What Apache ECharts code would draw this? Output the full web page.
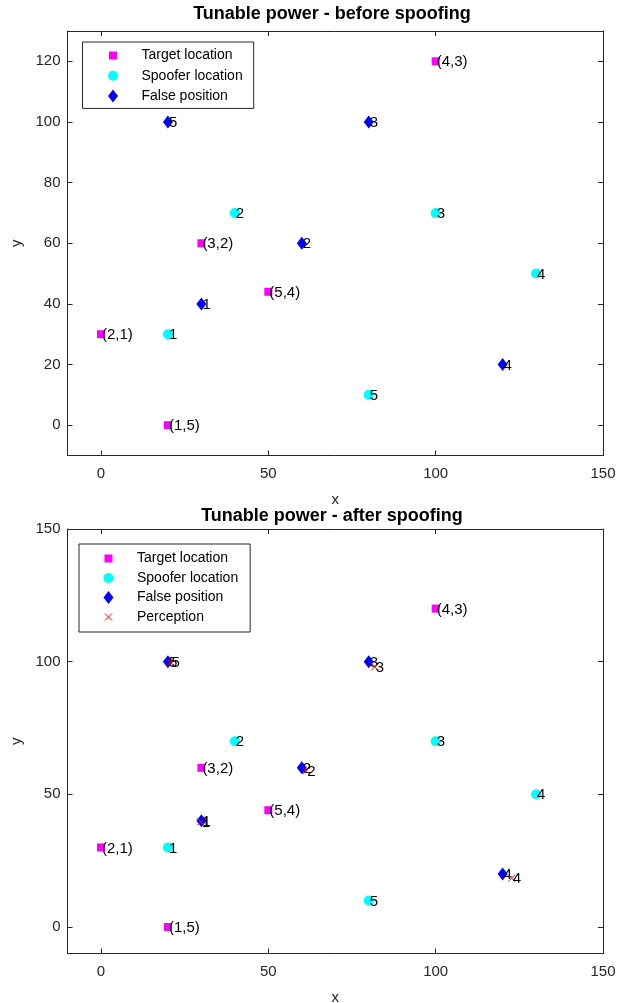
<!DOCTYPE html>
<html><head><meta charset="utf-8">
<script src="https://cdn.jsdelivr.net/npm/echarts@6/dist/echarts.min.js"></script>
<style>html,body{margin:0;padding:0;background:#fff}#c{width:629px;height:1003px}</style>
</head><body><div id="c"></div>
<script>
// ---- data ----
const targetX = [0, 20, 30, 50, 100];
const targetY = [30, 0, 60, 44, 120];
const targetLabels = ['(2,1)', '(1,5)', '(3,2)', '(5,4)', '(4,3)'];
const spooferX = [20, 40, 100, 130, 80];
const spooferY = [30, 70, 70, 50, 10];
const spooferLabels = ['1', '2', '3', '4', '5'];
const falseX = [30, 60, 80, 120, 20];
const falseY = [40, 60, 100, 20, 100];
const falseLabels = ['1', '2', '3', '4', '5'];
const perceptionX = [29.8, 61.3, 81.8, 122.7, 20.8];
const perceptionY = [39.6, 58.9, 98, 18.4, 99.8];
const perceptionLabels = ['1', '2', '3', '4', '5'];
const xTicks = [0, 50, 100, 150];
const yTicksTop = [0, 20, 40, 60, 80, 100, 120];
const yTicksBottom = [0, 50, 100, 150];
const titles = ['Tunable power - before spoofing', 'Tunable power - after spoofing'];
const seriesNames = ['Target location', 'Spoofer location', 'False position', 'Perception'];

// ---- chart ----
const FONT = 'Liberation Sans, Arial, Helvetica, sans-serif';
const AX = '#262626';
const chart = echarts.init(document.getElementById('c'), null, {renderer: 'canvas'});

function pts(xs, ys, labels) {
  return xs.map((x, i) => ({value: [x, ys[i]], name: labels[i]}));
}
const labelCfg = {
  show: true, formatter: '{b}', position: ['50%', '50%'], align: 'left', verticalAlign: 'middle',
  offset: [1, 1], color: '#000', fontSize: 15, fontFamily: FONT
};

function makeAxes(g, ymax, yTicks) {
  const base = {
    type: 'value', gridIndex: g, splitLine: {show: false},
    axisLine: {show: true, onZero: false, lineStyle: {color: AX, width: 1}},
  };
  const xb = Object.assign({}, base, {
    position: 'bottom', min: -10, max: 150,
    axisTick: {show: true, inside: true, length: 5, customValues: xTicks, lineStyle: {color: AX}},
    axisLabel: {show: true, customValues: xTicks, color: AX, fontSize: 15, fontFamily: FONT, margin: 11},
    name: 'x', nameLocation: 'middle', nameGap: 37,
    nameTextStyle: {color: AX, fontSize: 15, fontFamily: FONT}
  });
  const xt = Object.assign({}, base, {
    position: 'top', min: -10, max: 150,
    axisTick: {show: true, inside: true, length: 5, customValues: xTicks, lineStyle: {color: AX}},
    axisLabel: {show: false}
  });
  const yl = Object.assign({}, base, {
    position: 'left', min: -10, max: ymax,
    axisTick: {show: true, inside: true, length: 5, customValues: yTicks, lineStyle: {color: AX}},
    axisLabel: {show: true, customValues: yTicks, color: AX, fontSize: 15, fontFamily: FONT, margin: 7},
    name: 'y', nameLocation: 'middle', nameGap: 39, nameRotate: 90,
    nameTextStyle: {color: AX, fontSize: 15, fontFamily: FONT}
  });
  const yr = Object.assign({}, base, {
    position: 'right', min: -10, max: ymax,
    axisTick: {show: true, inside: true, length: 5, customValues: yTicks, lineStyle: {color: AX}},
    axisLabel: {show: false}
  });
  return {x: [xb, xt], y: [yl, yr]};
}

const a0 = makeAxes(0, 130, yTicksTop);
const a1 = makeAxes(1, 150, yTicksBottom);

function scatterSet(g, withPerception) {
  const xi = g * 2, yi = g * 2;
  const s = [
    {name: seriesNames[0], type: 'scatter', xAxisIndex: xi, yAxisIndex: yi, symbol: 'rect', symbolSize: 8,
     itemStyle: {color: '#ff00ff', opacity: 1}, label: labelCfg, data: pts(targetX, targetY, targetLabels), z: 2},
    {name: seriesNames[1], type: 'scatter', xAxisIndex: xi, yAxisIndex: yi, symbol: 'circle', symbolSize: 10,
     itemStyle: {color: '#00ffff', opacity: 1}, label: labelCfg, data: pts(spooferX, spooferY, spooferLabels), z: 2},
    {name: seriesNames[2], type: 'scatter', xAxisIndex: xi, yAxisIndex: yi, symbol: 'diamond', symbolSize: [10, 13],
     itemStyle: {color: '#0000ff', opacity: 1}, label: labelCfg, data: pts(falseX, falseY, falseLabels), z: 2}
  ];
  if (withPerception) {
    s.push({name: seriesNames[3], type: 'scatter', xAxisIndex: xi, yAxisIndex: yi,
      symbol: 'path://M0,0L10,10M10,0L0,10', symbolSize: 7,
      itemStyle: {color: 'rgba(0,0,0,0)', borderColor: '#ff0000', borderWidth: 1, opacity: 1},
      label: labelCfg, data: pts(perceptionX, perceptionY, perceptionLabels), z: 3});
  }
  return s;
}

const legendIcons = [
  'path://M-2.5,-2.5M10.5,10.5M0,0L8,0L8,8L0,8Z',
  'path://M-1.5,-1.5M11.5,11.5M0,5A5,5 0 1 1 10,5A5,5 0 1 1 0,5Z',
  'path://M5,0L10,6.5L5,13L0,6.5Z',
  'path://M-3,-3M10,10M0,0L7,7M7,0L0,7'
];
function legendData(n) {
  return seriesNames.slice(0, n).map((nm, i) => ({name: nm, icon: legendIcons[i]}));
}

const option = {
  animation: false,
  backgroundColor: '#fff',
  title: [
    {text: titles[0], left: 327, top: 0, textAlign: 'center',
     textStyle: {fontSize: 18, fontWeight: 'bold', color: '#000', fontFamily: FONT}},
    {text: titles[1], left: 327, top: 502, textAlign: 'center',
     textStyle: {fontSize: 18, fontWeight: 'bold', color: '#000', fontFamily: FONT}}
  ],
  grid: [
    {left: 67.5, right: 26, top: 31, height: 424.5, outerBoundsMode: 'none', containLabel: false},
    {left: 67.5, right: 26, top: 529, height: 424.5, outerBoundsMode: 'none', containLabel: false}
  ],
  xAxis: [...a0.x, ...a1.x],
  yAxis: [...a0.y, ...a1.y],
  legend: [
    {data: legendData(3), orient: 'vertical', left: 82.5, top: 42, selectedMode: false,
     itemWidth: 47, itemHeight: 13, itemGap: 6.2, padding: [6.5, 11, 5.5, 24],
     borderColor: AX, borderWidth: 1, backgroundColor: '#fff',
     itemStyle: {borderWidth: 1},
     textStyle: {fontSize: 14, color: '#000', fontFamily: FONT, lineHeight: 13}},
    {data: legendData(4), orient: 'vertical', left: 79, top: 544, selectedMode: false,
     itemWidth: 47, itemHeight: 13, itemGap: 5.5, padding: [7.5, 12, 8, 22.5],
     borderColor: AX, borderWidth: 1, backgroundColor: '#fff',
     itemStyle: {borderWidth: 1},
     textStyle: {fontSize: 14, color: '#000', fontFamily: FONT, lineHeight: 13}}
  ],
  series: [...scatterSet(0, false), ...scatterSet(1, true)]
};
chart.setOption(option);
</script>
</body></html>
